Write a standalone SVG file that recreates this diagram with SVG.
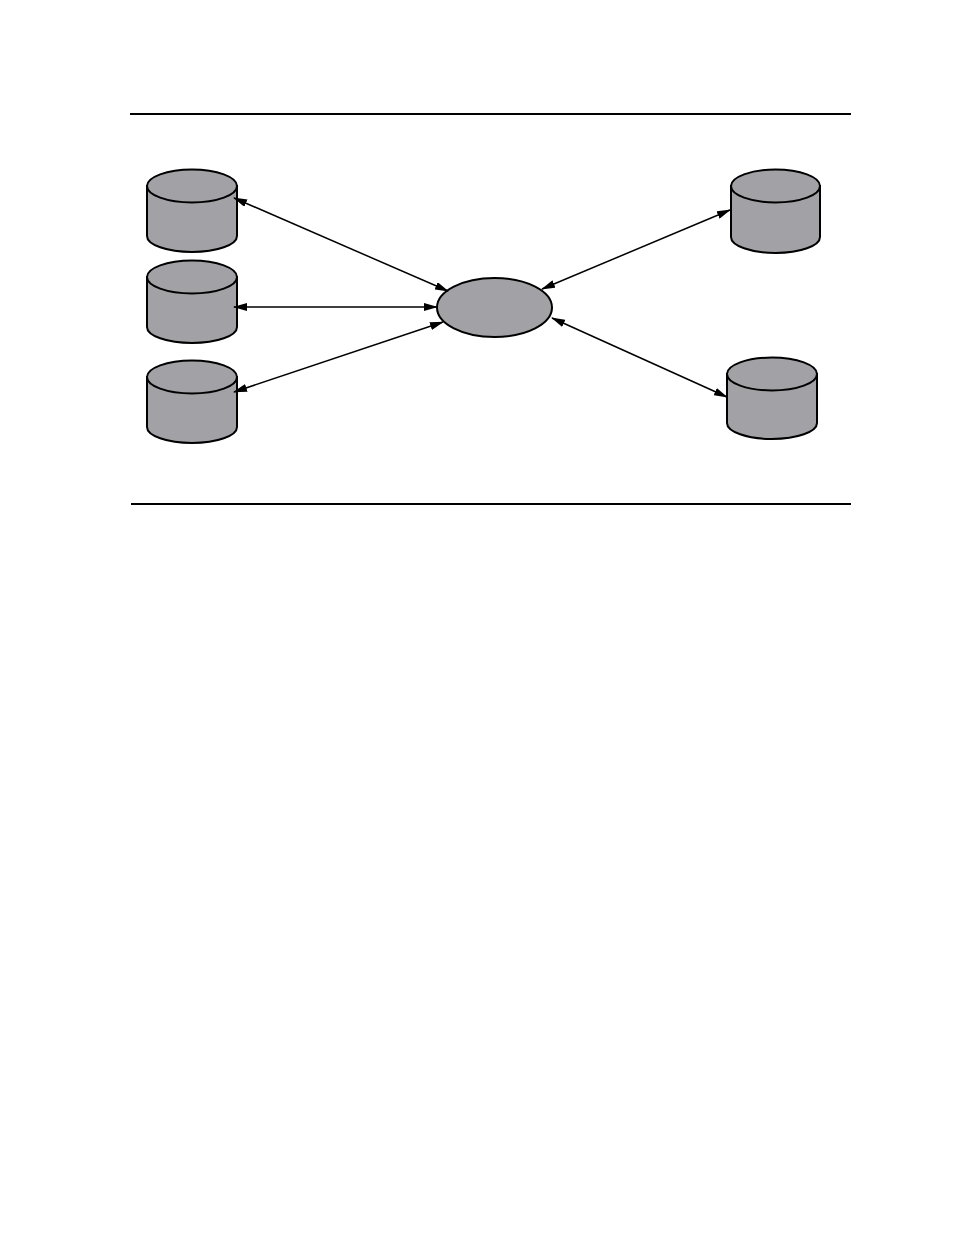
<svg xmlns="http://www.w3.org/2000/svg" width="954" height="1235" viewBox="0 0 954 1235">
<style>
.shape{fill:#a2a1a6;stroke:#000;stroke-width:2}
.rule{stroke:#000;stroke-width:2.2}
.conn{stroke:#000;stroke-width:1.5;fill:none;marker-start:url(#ah);marker-end:url(#ah)}
</style>
<defs>
<marker id="ah" viewBox="0 0 14 8" refX="13" refY="4" markerWidth="14" markerHeight="8" markerUnits="userSpaceOnUse" orient="auto-start-reverse">
<path d="M0,0 L14,4 L0,8 Z" fill="#000"/>
</marker>
</defs>
<rect width="954" height="1235" fill="#fff"/>
<line class="rule" x1="130" y1="114" x2="851" y2="114"/>
<line class="rule" x1="131" y1="504" x2="851" y2="504"/>
<g id="db1">
<path class="shape" d="M147,186 L147,236 A45,16 0 0 0 237,236 L237,186 Z"/>
<ellipse class="shape" cx="192" cy="186" rx="45" ry="16.5"/>
</g>
<g id="db2">
<path class="shape" d="M147,277 L147,327 A45,16 0 0 0 237,327 L237,277 Z"/>
<ellipse class="shape" cx="192" cy="277" rx="45" ry="16.5"/>
</g>
<g id="db3">
<path class="shape" d="M147,377 L147,427 A45,16 0 0 0 237,427 L237,377 Z"/>
<ellipse class="shape" cx="192" cy="377" rx="45" ry="16.5"/>
</g>
<g id="db4">
<path class="shape" d="M731,186 L731,237 A44.5,16 0 0 0 820,237 L820,186 Z"/>
<ellipse class="shape" cx="775.5" cy="186" rx="44.5" ry="16.5"/>
</g>
<g id="db5">
<path class="shape" d="M727,374 L727,423 A45,16 0 0 0 817,423 L817,374 Z"/>
<ellipse class="shape" cx="772" cy="374" rx="45" ry="16.5"/>
</g>
<g id="hub">
<ellipse class="shape" cx="494.5" cy="307.5" rx="57.5" ry="29.5"/>
</g>
<g id="connectors">
<line class="conn" x1="234" y1="198" x2="448" y2="291"/>
<line class="conn" x1="234" y1="307" x2="437" y2="307"/>
<line class="conn" x1="234" y1="392" x2="443" y2="322"/>
<line class="conn" x1="730" y1="210" x2="542" y2="289"/>
<line class="conn" x1="552" y1="318" x2="727" y2="397"/>
</g>
</svg>
